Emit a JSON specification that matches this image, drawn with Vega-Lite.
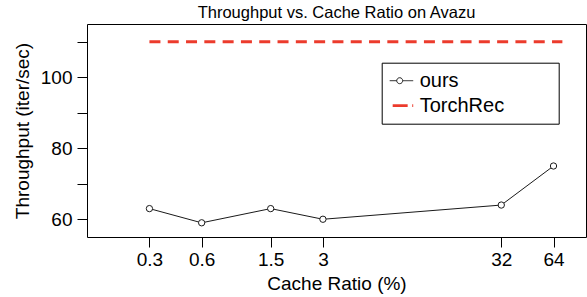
{
  "$schema": "https://vega.github.io/schema/vega-lite/v6.json",
  "width": 499,
  "height": 213,
  "autosize": {"type": "none"},
  "padding": {"left": 87, "top": 24, "right": 1, "bottom": 60},
  "config": {
    "font": "Liberation Sans",
    "view": {"stroke": "black", "strokeWidth": 1},
    "axis": {
      "domain": false,
      "grid": false,
      "tickColor": "black",
      "tickSize": 10,
      "labelColor": "black",
      "titleColor": "black",
      "labelFontSize": 19,
      "titleFontSize": 19,
      "titleFontWeight": "normal",
      "labelFont": "Liberation Sans",
      "titleFont": "Liberation Sans"
    }
  },
  "title": {
    "text": "Throughput vs. Cache Ratio on Avazu",
    "fontSize": 16.5,
    "fontWeight": "normal",
    "font": "Liberation Sans",
    "color": "black",
    "offset": 3,
    "anchor": "middle"
  },
  "data": {
    "values": [
      {"ratio": 0.3, "throughput": 63, "series": "ours"},
      {"ratio": 0.6, "throughput": 59, "series": "ours"},
      {"ratio": 1.5, "throughput": 63, "series": "ours"},
      {"ratio": 3, "throughput": 60, "series": "ours"},
      {"ratio": 32, "throughput": 64, "series": "ours"},
      {"ratio": 64, "throughput": 75, "series": "ours"},
      {"ratio": 0.3, "throughput": 110, "series": "TorchRec"},
      {"ratio": 72, "throughput": 110, "series": "TorchRec"}
    ]
  },
  "encoding": {
    "x": {
      "field": "ratio",
      "type": "quantitative",
      "scale": {"type": "log", "domain": [0.131, 98.5], "nice": false},
      "axis": {
        "values": [0.3, 0.6, 1.5, 3, 32, 64],
        "format": "~g",
        "title": "Cache Ratio (%)",
        "labelPadding": 3,
        "titlePadding": 5
      }
    },
    "y": {
      "field": "throughput",
      "type": "quantitative",
      "scale": {"domain": [55, 115], "nice": false, "zero": false},
      "axis": {
        "values": [60, 70, 80, 90, 100, 110],
        "labelExpr": "(datum.value == 60 || datum.value == 80 || datum.value == 100) ? datum.label : ''",
        "title": "Throughput (iter/sec)",
        "labelPadding": 5,
        "titlePadding": 8
      }
    }
  },
  "layer": [
    {
      "transform": [{"filter": "datum.series === 'TorchRec'"}],
      "mark": {"type": "line", "strokeWidth": 2.8, "strokeCap": "butt"},
      "encoding": {
        "strokeDash": {"value": [11, 7.3]},
        "color": {
          "field": "series",
          "type": "nominal",
          "scale": {"domain": ["ours", "TorchRec"], "range": ["#1a1a1a", "#ec3b2c"]},
          "legend": {
            "orient": "none",
            "legendX": 294.7,
            "legendY": 38.7,
            "title": null,
            "strokeColor": "black",
            "fillColor": "white",
            "padding": 8,
            "symbolSize": 729,
            "symbolType": "stroke",
            "clipHeight": 20,
            "rowPadding": 5,
            "labelOffset": 10,
            "labelFontSize": 20,
            "labelFont": "Liberation Sans",
            "labelColor": "black",
            "encode": {
              "entries": {
                "update": {"width": {"value": 161}}
              },
              "symbols": {
                "update": {
                  "shape": {"signal": "datum.value === 'ours' ? 'M-1,0H-0.22M0.22,0H1M0.22,0A0.22,0.22,0,1,1,-0.22,0A0.22,0.22,0,1,1,0.22,0Z' : 'M-1,0H-0.85M-0.52,0H0.59M0.93,0H1'"},
                  "fill": {"signal": "datum.value === 'ours' ? 'white' : 'transparent'"},
                  "strokeDash": {"value": [1, 0]},
                  "strokeWidth": {"signal": "datum.value === 'ours' ? 1 : 2.8"},
                  "strokeCap": {"value": "butt"},
                  "opacity": {"value": 1}
                }
              }
            }
          }
        }
      }
    },
    {
      "transform": [{"filter": "datum.series === 'ours'"}],
      "mark": {"type": "line", "strokeWidth": 1},
      "encoding": {
        "color": {"field": "series", "type": "nominal"}
      }
    },
    {
      "transform": [{"filter": "datum.series === 'ours'"}],
      "mark": {"type": "point", "shape": "circle", "filled": true, "fill": "white", "stroke": "#1a1a1a", "strokeWidth": 1, "size": 40, "opacity": 1}
    }
  ]
}
